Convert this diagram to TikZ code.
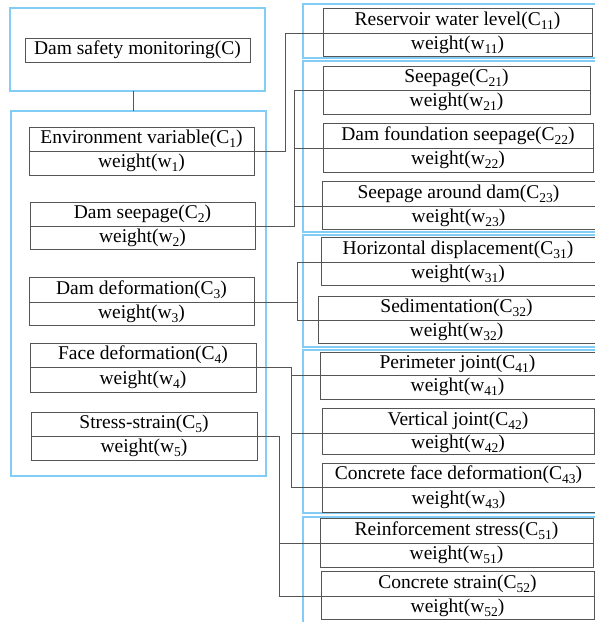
\documentclass[tikz,border=0pt]{standalone}
\usepackage{fontspec}
\setmainfont{Liberation Serif}
\definecolor{grpblue}{RGB}{130,205,245}
\definecolor{linegray}{RGB}{85,85,85}
\tikzset{
  grp/.style={draw=grpblue, line width=1.1pt, rectangle, inner sep=0pt, outer sep=0pt, anchor=north west},
  cellbox/.style={draw=linegray, line width=0.75pt, rectangle, inner sep=0pt, outer sep=0pt, anchor=north west,
     font=\fontsize{19.5}{21}\selectfont},
  conn/.style={draw=linegray, line width=0.75pt},
}
\newcommand\grpbox[5]{%
  \node[grp, minimum width={(#4-#2)*1pt}, minimum height={(#5-#3)*1pt}] (#1) at (#2,#3) {};}
\newcommand\cellpair[8]{%
  \node[cellbox, minimum width={(#3-#2)*1pt}, minimum height={(#5-#4)*1pt}] (c#1) at (#2,#4) {#7};
  \node[cellbox, minimum width={(#3-#2)*1pt}, minimum height={(#6-#5)*1pt}] (w#1) at (#2,#5) {#8};}
\newcommand\sub[1]{\raisebox{-4pt}{\fontsize{13.5}{14}\selectfont #1}}
\begin{document}
\begin{tikzpicture}[x=1pt,y=-1pt]
\useasboundingbox (0,0) rectangle (595,622);
% group frames
\grpbox{topgrp}{10}{8}{265}{91}
\grpbox{leftgrp}{11}{111}{266}{476}
\grpbox{g1}{303}{4}{605}{58}
\grpbox{g2}{303}{61}{605}{232}
\grpbox{g3}{303}{235}{605}{347}
\grpbox{g4}{303}{350}{605}{513}
\grpbox{g5}{303}{517}{605}{640}
% root
\node[cellbox, minimum width=225pt, minimum height=24pt] (root) at (25,38) {Dam safety monitoring(C)};
% left items
\cellpair{1}{29}{254}{127}{151}{175}{Environment variable(C\sub{1})}{weight(w\sub{1})}
\cellpair{2}{30}{255}{202}{226}{249}{Dam seepage(C\sub{2})}{weight(w\sub{2})}
\cellpair{3}{29}{254}{277}{302}{325}{Dam deformation(C\sub{3})}{weight(w\sub{3})}
\cellpair{4}{30}{256}{343}{367}{392}{Face deformation(C\sub{4})}{weight(w\sub{4})}
\cellpair{5}{31}{257}{412}{436}{460}{Stress-strain(C\sub{5})}{weight(w\sub{5})}
% right items
\cellpair{11}{323}{592}{8}{33}{56}{Reservoir water level(C\sub{11})}{weight(w\sub{11})}
\cellpair{21}{323}{590}{66}{90}{114}{Seepage(C\sub{21})}{weight(w\sub{21})}
\cellpair{22}{323}{593}{123}{148}{172}{Dam foundation seepage(C\sub{22})}{weight(w\sub{22})}
\cellpair{23}{322}{595}{181}{206}{229}{Seepage around dam(C\sub{23})}{weight(w\sub{23})}
\cellpair{31}{321}{595}{237}{262}{285}{Horizontal displacement(C\sub{31})}{weight(w\sub{31})}
\cellpair{32}{318}{595}{296}{320}{343}{Sedimentation(C\sub{32})}{weight(w\sub{32})}
\cellpair{41}{320}{595}{352}{375}{399}{Perimeter joint(C\sub{41})}{weight(w\sub{41})}
\cellpair{42}{322}{594}{408}{433}{454}{Vertical joint(C\sub{42})}{weight(w\sub{42})}
\cellpair{43}{322}{595}{463}{487}{512}{Concrete face deformation(C\sub{43})}{weight(w\sub{43})}
\cellpair{51}{320}{593}{518}{543}{567}{Reinforcement stress(C\sub{51})}{weight(w\sub{51})}
\cellpair{52}{321}{594}{571}{596}{619}{Concrete strain(C\sub{52})}{weight(w\sub{52})}
% bus coordinates
\coordinate (b1) at (285,0);
\coordinate (b2) at (294,0);
\coordinate (b3) at (297,0);
\coordinate (b4) at (291,0);
\coordinate (b5) at (279,0);
% connectors
\draw[conn] ([xshift=-4.5pt]topgrp.south) -- ([xshift=-4.5pt]topgrp.south |- leftgrp.north);
\draw[conn] (c1.south east) -| (b1 |- c11.south west) -- (c11.south west);
\draw[conn] (c2.south east) -| (b2 |- c21.south west) -- (c21.south west);
\draw[conn] (c22.south west) -- (c22.south west -| b2);
\draw[conn] (c23.south west) -- (c23.south west -| b2);
\draw[conn] (c31.south west) -- (c31.south west -| b3) -- (c32.south west -| b3) -- (c32.south west);
\draw[conn] (c3.south east) -- (c3.south east -| b3);
\draw[conn] (c4.south east) -| (b4 |- c43.south west) -- (c43.south west);
\draw[conn] (c41.south west) -- (c41.south west -| b4);
\draw[conn] (c42.south west) -- (c42.south west -| b4);
\draw[conn] (c5.south east) -| (b5 |- c52.south west) -- (c52.south west);
\draw[conn] (c51.south west) -- (c51.south west -| b5);
\end{tikzpicture}
\end{document}
